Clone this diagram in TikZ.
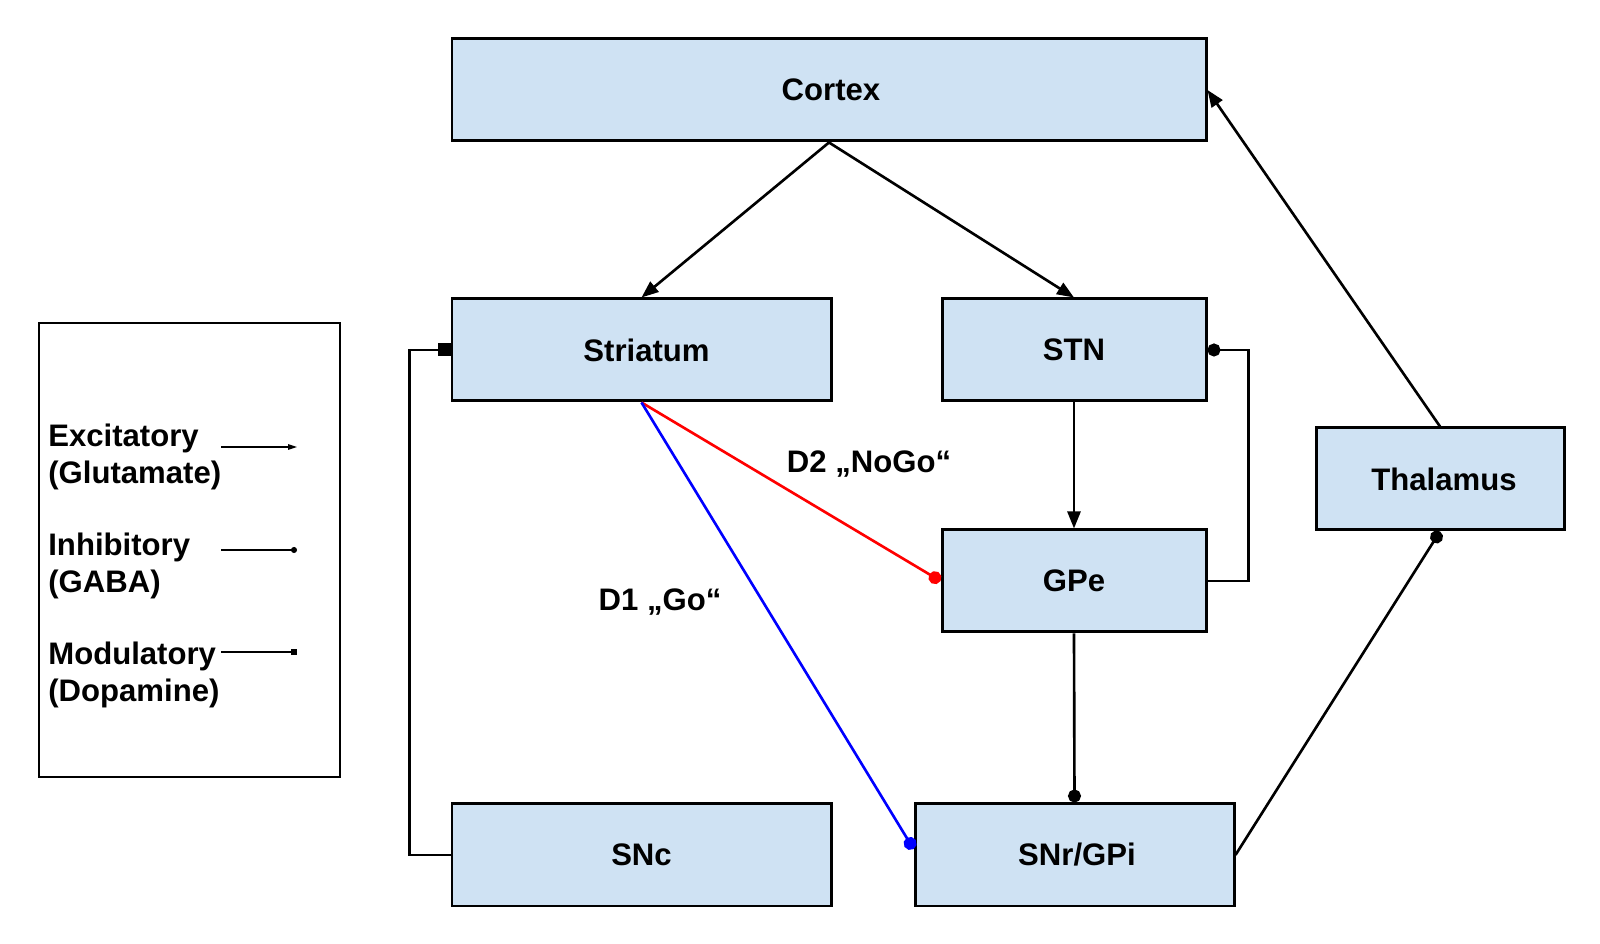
\documentclass[tikz,border=0pt]{standalone}
\usepackage{fontspec}
\setmainfont{Liberation Sans}
\usepackage{xcolor}
\usepackage{tikz}
\usetikzlibrary{arrows.meta, positioning}
\definecolor{boxblue}{RGB}{207,226,243}
\newcommand{\lblfont}{\fontsize{17.7pt}{21pt}\selectfont\bfseries}
\tikzset{
  region/.style  = {rectangle, draw, line width=1.7pt, fill=boxblue,
                    font=\lblfont, inner sep=0pt, minimum height=2.04cm},
  excarr/.style  = {-{Triangle[length=0.34cm, width=0.26cm]}, line width=1.5pt},
  inharr/.style  = {-{Circle[length=0.26cm]}, line width=1.5pt},
  modarr/.style  = {-{Square[length=0.26cm]}, line width=1.5pt},
  keytext/.style = {align=left, anchor=west, font=\lblfont, inner sep=0pt},
  keyline/.style = {line width=0.7pt},
  pathlbl/.style = {font=\lblfont, inner sep=1pt},
}

\begin{document}
\begin{tikzpicture}
  \useasboundingbox (0,0) rectangle (32,18.88);

  % nuclei
  \node[region, minimum width=15.08cm] (cortex)   at (16.58,17.08) {\hspace{0.08cm}Cortex};
  \node[region, minimum width=7.58cm]  (striatum) at (12.83,11.88) {\hspace{0.2cm}Striatum};
  \node[region, minimum width=5.28cm]  (stn)      at (21.48,11.88) {STN};
  \node[region, minimum width=4.96cm]  (thalamus) at (28.80,9.30)  {\hspace{0.16cm}Thalamus};
  \node[region, minimum width=5.28cm]  (gpe)      at (21.48,7.26)  {GPe};
  \node[region, minimum width=7.58cm]  (snc)      at (12.83,1.78)  {SNc};
  \node[region, minimum width=6.38cm]  (snr)      at (21.49,1.78)  {\hspace{0.1cm}SNr/GPi};

  % pathways
  \draw[excarr] (cortex.south) -- (striatum.north);
  \draw[excarr] (cortex.south) -- (stn.north);
  \draw[excarr] (thalamus.north) -- (cortex.east);
  \draw[excarr] (stn.south) -- (gpe.north);
  \draw[inharr] (gpe.east) -- ++(0.82,0) |- (stn.east);
  \draw[inharr] (gpe.south) -- (snr.north);
  \draw[inharr] (snr.east) -- (thalamus.south);
  \draw[inharr, red]  (striatum.south) -- (gpe.west);
  \draw[inharr, blue] (striatum.south) -- ([yshift=0.12cm]snr.west);
  \draw[modarr] (snc.west) -- ++(-0.82,0) |- (striatum.west);

  \node[pathlbl] (nogo) at (17.38,9.60) {D2 „NoGo“};
  \node[pathlbl] (go)   at (13.20,6.84) {D1 „Go“};

  % legend
  \draw[line width=1.5pt] (0.78,3.34) rectangle (6.80,12.42);
  \node[keytext] (kexc) at (0.96,9.74) {Excitatory\\(Glutamate)};
  \node[keytext] (kinh) at (0.96,7.56) {Inhibitory\\(GABA)};
  \node[keytext] (kmod) at (0.96,5.38) {Modulatory\\(Dopamine)};
  \coordinate (kexc-a) at (4.42,9.94);
  \coordinate (kexc-b) at (5.94,9.94);
  \coordinate (kinh-a) at (4.42,7.88);
  \coordinate (kinh-b) at (5.94,7.88);
  \coordinate (kmod-a) at (4.42,5.84);
  \coordinate (kmod-b) at (5.94,5.84);
  \draw[keyline, -{Triangle[length=0.18cm, width=0.11cm]}] (kexc-a) -- (kexc-b);
  \draw[keyline, -{Circle[length=0.12cm]}] (kinh-a) -- (kinh-b);
  \draw[keyline, -{Square[length=0.13cm]}] (kmod-a) -- (kmod-b);
\end{tikzpicture}
\end{document}
